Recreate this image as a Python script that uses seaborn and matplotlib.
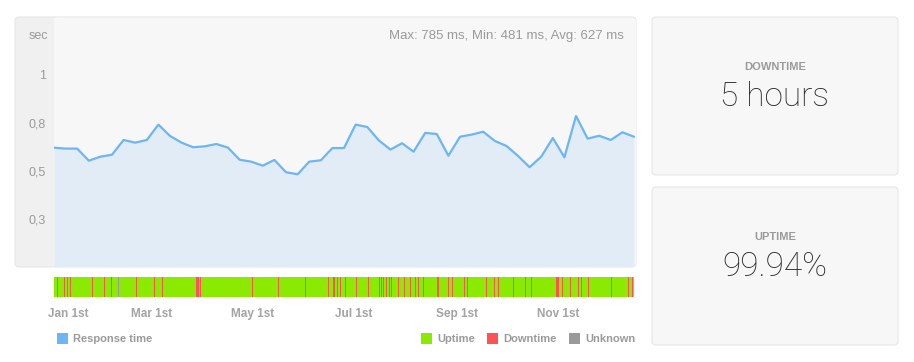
import pandas as pd
import numpy as np
import matplotlib
matplotlib.use("Agg")
import matplotlib.pyplot as plt
import matplotlib.transforms as mtransforms
import seaborn as sns
from matplotlib.patches import FancyBboxPatch, Rectangle

# weekly response time (seconds)
resp_sec = [0.620, 0.615, 0.615, 0.552, 0.573, 0.583, 0.660, 0.646, 0.660, 0.740,
            0.681, 0.646, 0.622, 0.627, 0.639, 0.620, 0.557, 0.547, 0.526, 0.556,
            0.492, 0.481, 0.547, 0.554, 0.618, 0.618, 0.740, 0.728, 0.658, 0.610,
            0.643, 0.599, 0.697, 0.691, 0.578, 0.677, 0.688, 0.703, 0.655, 0.629,
            0.577, 0.518, 0.573, 0.670, 0.570, 0.785, 0.667, 0.682, 0.660, 0.700,
            0.677]
weeks = pd.date_range("2017-01-01", periods=len(resp_sec), freq="7D")

# outages, in days from Jan 1st
down_days = [2.0, 6.2, 8.0, 9.8, 23.4, 30.6, 34.8, 49.9, 60.8, 65.6, 86.5, 88.7,
             119.7, 135.4, 151.7, 165.5, 168.9, 171.2, 173.0, 176.2, 182.7, 189.7,
             196.3, 197.8, 199.1, 200.8, 202.2, 203.8, 207.8, 210.0, 211.4, 215.3,
             217.9, 219.8, 222.9, 231.9, 237.9, 240.6, 245.0, 247.6, 249.4, 261.1,
             266.1, 268.1, 277.2, 284.7, 287.9, 304.0, 306.7, 311.8, 316.4, 318.5,
             322.4, 336.6, 346.6, 349.2]
down_width = [0.6] * len(down_days)
for i, d in enumerate(down_days):
    if d in (86.5, 168.9, 304.0):
        down_width[i] = 1.6
    elif d == 231.9:
        down_width[i] = 1.0
unknown_days = [39.2]
period_days = 350

month_ticks = ["2017-01-01", "2017-03-01", "2017-05-01", "2017-07-01", "2017-09-01", "2017-11-01"]
month_labels = ["Jan 1st", "Mar 1st", "May 1st", "Jul 1st", "Sep 1st", "Nov 1st"]
y_ticks = [0.25, 0.5, 0.75, 1.0]
y_labels = ["0,3", "0,5", "0,8", "1"]

LINE = "#6cb6f5"
FILL = "#e1ecf7"
GREEN = "#8aeb00"
RED = "#ff5252"
GREY = "#9a9a9a"
TXT = "#9a9a9a"

sns.set_theme(style="white")
plt.rcParams["font.family"] = ["Liberation Sans", "DejaVu Sans"]

W, H = 914, 362
fig = plt.figure(figsize=(W / 100, H / 100), dpi=100)
fig.patch.set_facecolor("white")

bg = fig.add_axes([0, 0, 1, 1], zorder=0)
bg.set_xlim(0, W)
bg.set_ylim(H, 0)
bg.axis("off")


def px_axes(x0, y0, x1, y1, z=1):
    return fig.add_axes([x0 / W, 1 - y1 / H, (x1 - x0) / W, (y1 - y0) / H], zorder=z)


def panel(x0, y0, x1, y1, face, edge="#e6e6e6", r=4):
    bg.add_patch(FancyBboxPatch((x0 + r, y0 + r), x1 - x0 - 2 * r, y1 - y0 - 2 * r,
                                boxstyle=f"round,pad={r}", facecolor=face,
                                edgecolor=edge, linewidth=0.8))


# chart panel
panel(15, 17, 636, 267, "#f0f0f0")
bg.add_patch(Rectangle((54, 17.5), 578, 249, facecolor="#f7f7f7", edgecolor="none"))
bg.add_patch(FancyBboxPatch((58, 21.5), 574, 241, boxstyle="round,pad=4",
                            facecolor="#f7f7f7", edgecolor="none"))
bg.text(48, 36, "sec", ha="right", va="center", fontsize=9, color=TXT)
bg.text(624, 36, "Max: 785 ms, Min: 481 ms, Avg: 627 ms", ha="right", va="center",
        fontsize=9.5, color=TXT)

# stat panels
panel(652, 17, 898, 175, "#f7f7f7")
panel(652, 187, 898, 345, "#f7f7f7")
bg.text(775, 67, "DOWNTIME", ha="center", va="center", fontsize=8, fontweight="bold", color=TXT)
bg.text(775, 97, "5 hours", ha="center", va="center", fontsize=24, color="#262626",
        family=["Roboto", "Liberation Sans"], fontweight="light")
bg.text(775, 237, "UPTIME", ha="center", va="center", fontsize=8, fontweight="bold", color=TXT)
bg.text(775, 267, "99.94%", ha="center", va="center", fontsize=24, color="#262626",
        family=["Roboto", "Liberation Sans"], fontweight="light")

# response time chart
start = weeks[0]
ax = px_axes(54, 17, 636, 266.6)
ax.set_facecolor("none")
ax.fill_between(weeks, resp_sec, 0, color=FILL, linewidth=0)
sns.lineplot(x=weeks, y=resp_sec, ax=ax, color=LINE, linewidth=1.6)
ax.set_xlim(start, start + pd.Timedelta(days=351.2))
ax.set_ylim(0, 1.301)
ax.set_yticks(y_ticks)
ax.set_yticklabels(y_labels)
ax.set_xticks([])
ax.tick_params(axis="y", length=0, pad=6, labelsize=9, labelcolor=TXT)
ax.set_xlabel("")
ax.set_ylabel("")
for s in ax.spines.values():
    s.set_visible(False)

# uptime bar
ub = px_axes(54, 277, 634, 297)
ub.set_facecolor("none")
ub.barh(0, period_days, left=0, height=1, color=GREEN, linewidth=0)
ub.bar(down_days, 1, width=down_width, bottom=-0.5, color=RED, linewidth=0)
ub.bar(unknown_days, 1, width=0.6, bottom=-0.5, color=GREY, linewidth=0)
ub.set_xlim(0, period_days)
ub.set_ylim(-0.5, 0.5)
ub.set_yticks([])
tick_days = [(pd.Timestamp(m) - start).days for m in month_ticks]
ub.set_xticks(tick_days)
ub.set_xticklabels(month_labels)
ub.tick_params(axis="x", length=0, pad=8, labelsize=8.5, labelcolor="#a3a3a3")
for lab in ub.get_xticklabels():
    lab.set_fontweight("bold")
first = ub.get_xticklabels()[0]
first.set_ha("left")
first.set_transform(first.get_transform() +
                    mtransforms.ScaledTranslation(-4 / 72, 0, fig.dpi_scale_trans))
for s in ub.spines.values():
    s.set_visible(False)

# legend
items = [(57, LINE, "Response time"), (421, GREEN, "Uptime"),
         (487, RED, "Downtime"), (569, GREY, "Unknown")]
for x0, c, name in items:
    bg.add_patch(Rectangle((x0, 332.5), 11, 11, facecolor=c, edgecolor="none"))
    bg.text(x0 + 16, 338.5, name, ha="left", va="center", fontsize=8,
            fontweight="bold", color=TXT)

fig.savefig("out.png", dpi=100, facecolor="white")
